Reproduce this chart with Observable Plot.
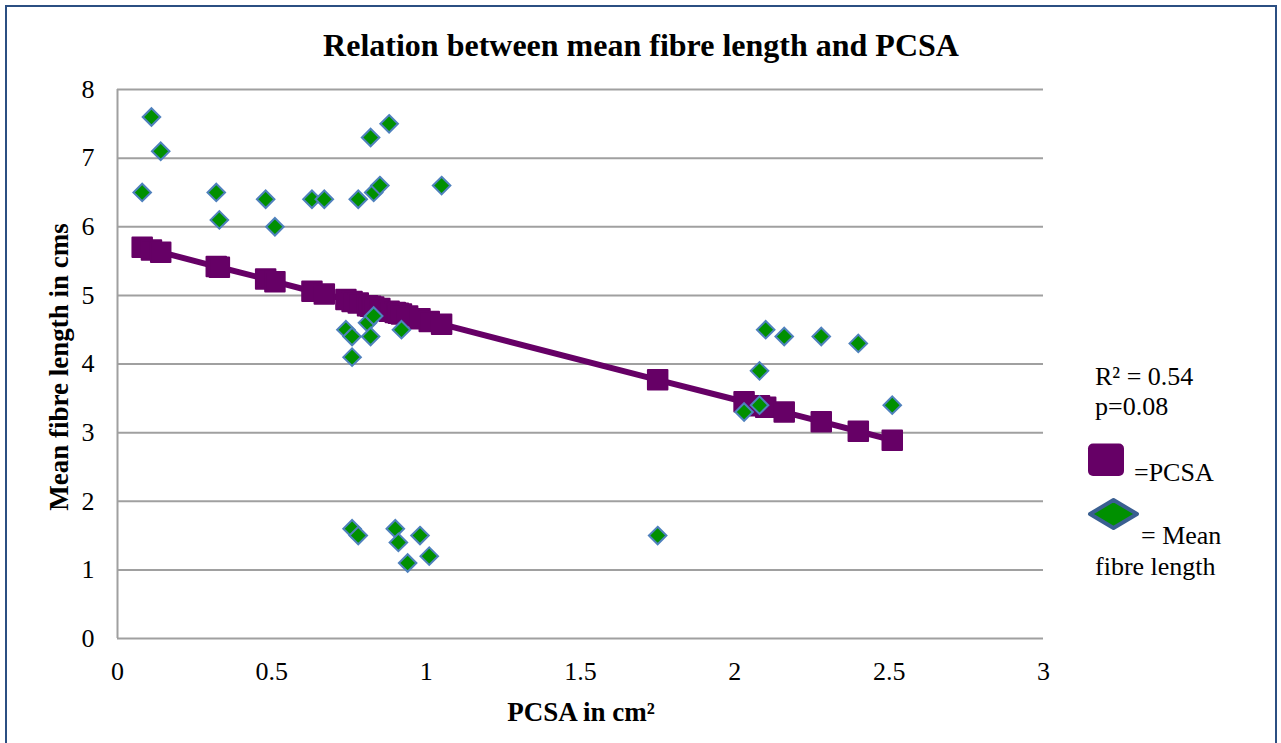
<!DOCTYPE html>
<html>
<head>
<meta charset="utf-8">
<script src="https://cdn.jsdelivr.net/npm/d3@7"></script>
<script src="https://cdn.jsdelivr.net/npm/@observablehq/plot@0.6"></script>
<style>
  html, body { margin: 0; padding: 0; background: #fff; overflow: hidden; }
  #wrap { position: relative; width: 1281px; height: 743px; font-family: "Liberation Serif", "Times New Roman", serif; }
  #chart { position: absolute; left: 0; top: 0; }
  #frame { position: absolute; left: 5px; top: 5px; width: 1268px; height: 760px; border: 2px solid #2b4f82; }
  #overlay { position: absolute; left: 0; top: 0; pointer-events: none; }
  #overlay text { font-family: "Liberation Serif", "Times New Roman", serif; fill: #000; }
</style>
</head>
<body>
<div id="wrap">
  <div id="chart"></div>
  <div id="frame"></div>
  <svg id="overlay" width="1281" height="743"></svg>
</div>
<script>
// ---- data ----
const greenX = [0.08, 0.11, 0.14, 0.32, 0.33, 0.48, 0.51, 0.63, 0.67, 0.78, 0.82, 0.83, 0.85, 0.88, 1.05,
                0.74, 0.76, 0.76, 0.81, 0.83, 0.82, 0.92,
                0.76, 0.78, 0.90, 0.91, 0.98, 0.94, 1.01,
                1.75, 2.10, 2.16, 2.28, 2.40, 2.08, 2.03, 2.08, 2.51];
const greenY = [6.5, 7.6, 7.1, 6.5, 6.1, 6.4, 6.0, 6.4, 6.4, 6.4, 7.3, 6.5, 6.6, 7.5, 6.6,
                4.5, 4.4, 4.1, 4.6, 4.7, 4.4, 4.5,
                1.6, 1.5, 1.6, 1.4, 1.5, 1.1, 1.2,
                1.5, 4.5, 4.4, 4.4, 4.3, 3.9, 3.3, 3.4, 3.4];
const purpleX = [0.08, 0.11, 0.14, 0.32, 0.33, 0.48, 0.51, 0.63, 0.67, 0.74, 0.76, 0.78, 0.81, 0.82, 0.83, 0.85,
                 0.88, 0.90, 0.91, 0.92, 0.94, 0.98, 1.01, 1.05, 1.75, 2.03, 2.08, 2.10, 2.16, 2.28, 2.40, 2.51];
const purpleY = [5.70, 5.66, 5.63, 5.42, 5.41, 5.24, 5.20, 5.06, 5.02, 4.94, 4.91, 4.89, 4.85, 4.84, 4.83, 4.81,
                 4.77, 4.75, 4.74, 4.73, 4.70, 4.66, 4.62, 4.58, 3.77, 3.45, 3.39, 3.37, 3.30, 3.16, 3.02, 2.89];
const xTicks = [0, 0.5, 1, 1.5, 2, 2.5, 3];
const yTicks = [0, 1, 2, 3, 4, 5, 6, 7, 8];
const title = "Relation between mean fibre length and PCSA";
const xLabel = "PCSA in cm²";
const yLabel = "Mean fibre length in cms";
const statLines = ["R² = 0.54", "p=0.08"];
const legendPCSA = "=PCSA";
const legendMean = ["= Mean", "fibre length"];

const green = greenX.map((x, i) => ({x, y: greenY[i]}));
const purple = purpleX.map((x, i) => ({x, y: purpleY[i]}));

const purpleColor = "#660066";
const greenFill = "#009000";
const greenStroke = "#4f81bd";
const gridColor = "#a0a0a0";

const chart = Plot.plot({
  width: 1281,
  height: 743,
  marginLeft: 117,
  marginRight: 238,
  marginTop: 89,
  marginBottom: 105,
  style: {fontFamily: "'Liberation Serif', 'Times New Roman', serif", fontSize: "26px", color: "#000", background: "transparent"},
  x: {domain: [0, 3], label: null},
  y: {domain: [0, 8], label: null},
  marks: [
    Plot.gridY(yTicks, {stroke: gridColor, strokeOpacity: 1, strokeWidth: 2}),
    Plot.ruleX([0], {stroke: gridColor, strokeWidth: 2}),
    Plot.axisY(yTicks, {tickSize: 0, tickPadding: 23, tickFormat: d => String(d), label: null, fontSize: 26}),
    Plot.axisX(xTicks, {tickSize: 0, tickPadding: 23, tickFormat: d => String(d), label: null, fontSize: 26}),
    Plot.line(purple, {x: "x", y: "y", stroke: purpleColor, strokeWidth: 6}),
    Plot.dot(purple, {x: "x", y: "y", symbol: "square", r: 11, fill: purpleColor, stroke: purpleColor, strokeWidth: 2, strokeLinejoin: "round"}),
    Plot.dot(green, {x: "x", y: "y", symbol: "diamond2", r: 7.9, fill: greenFill, stroke: greenStroke, strokeWidth: 2})
  ]
});
document.getElementById("chart").appendChild(chart);

// ---- overlay: title, axis titles, legend ----
const ov = d3.select("#overlay");
ov.append("text").attr("x", 641).attr("y", 56).attr("text-anchor", "middle")
  .attr("font-weight", "bold").attr("font-size", 32).text(title);
ov.append("text").attr("x", 581).attr("y", 721).attr("text-anchor", "middle")
  .attr("font-weight", "bold").attr("font-size", 27).text(xLabel);
ov.append("text").attr("transform", "translate(68,367) rotate(-90)").attr("text-anchor", "middle")
  .attr("font-weight", "bold").attr("font-size", 27).text(yLabel);

ov.append("text").attr("x", 1095).attr("y", 385).attr("font-size", 26).text(statLines[0]);
ov.append("text").attr("x", 1095).attr("y", 415).attr("font-size", 26).text(statLines[1]);
ov.append("rect").attr("x", 1088).attr("y", 443.5).attr("width", 36).attr("height", 32.5)
  .attr("rx", 5).attr("fill", purpleColor);
ov.append("text").attr("x", 1134).attr("y", 481).attr("font-size", 26).text(legendPCSA);
ov.append("path").attr("d", "M1090,514 L1113.5,500 L1137,514 L1113.5,528 Z")
  .attr("fill", greenFill).attr("stroke", "#3a5f91").attr("stroke-width", 4).attr("stroke-linejoin", "round");
ov.append("text").attr("x", 1141).attr("y", 544).attr("font-size", 26).text(legendMean[0]);
ov.append("text").attr("x", 1095).attr("y", 575).attr("font-size", 26).text(legendMean[1]);
</script>
</body>
</html>
